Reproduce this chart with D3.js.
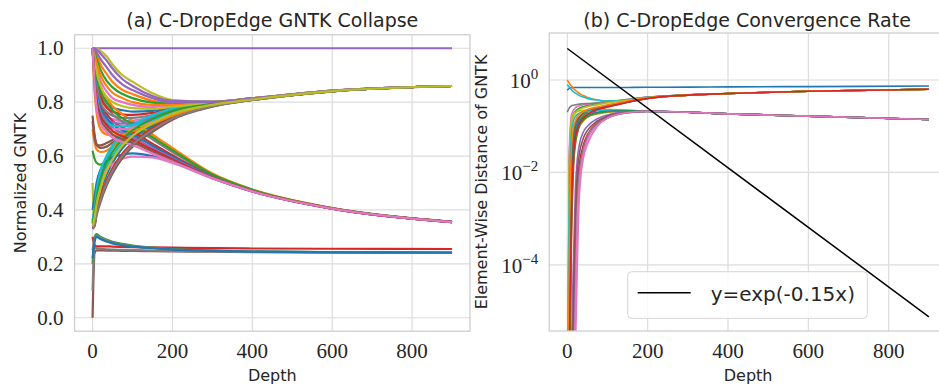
<!DOCTYPE html>
<html>
<head>
<meta charset="utf-8">
<script src="https://cdn.jsdelivr.net/npm/d3@7"></script>
<style>
  body { margin: 0; background: #fff; }
  .serif { font-family: 'Liberation Serif', 'Times New Roman', Tinos, 'DejaVu Serif', 'Noto Serif', serif; }
  .sans { font-family: 'DejaVu Sans', sans-serif; }
</style>
</head>
<body>
<svg id="chart" width="939" height="386"></svg>
<script>
// ---- data ----
// (a) normalized GNTK per depth, one row per curve
const depthsA = [0, 5, 10, 20, 35, 50, 75, 100, 150, 200, 300, 400, 600, 900];
const collapseCurves = [
  [1.0, 0.945, 0.90, 0.84, 0.80, 0.78, 0.77, 0.765, 0.768, 0.779, 0.796, 0.812, 0.842, 0.86],
  [1.0, 0.99, 0.975, 0.94, 0.905, 0.875, 0.845, 0.83, 0.805, 0.797, 0.80, 0.814, 0.842, 0.86],
  [0.62, 0.59, 0.575, 0.568, 0.58, 0.60, 0.635, 0.665, 0.71, 0.745, 0.786, 0.808, 0.84, 0.86],
  [0.30, 0.27, 0.265, 0.265, 0.265, 0.264, 0.263, 0.262, 0.261, 0.26, 0.258, 0.257, 0.256, 0.255],
  [1.0, 1.0, 1.0, 1.0, 1.0, 1.0, 1.0, 1.0, 1.0, 1.0, 1.0, 1.0, 1.0, 1.0],
  [0.75, 0.68, 0.645, 0.63, 0.635, 0.65, 0.675, 0.695, 0.73, 0.757, 0.789, 0.809, 0.841, 0.86],
  [1.0, 0.915, 0.855, 0.785, 0.75, 0.737, 0.73, 0.732, 0.745, 0.766, 0.793, 0.811, 0.841, 0.86],
  [1.0, 0.94, 0.885, 0.825, 0.785, 0.755, 0.728, 0.71, 0.662, 0.615, 0.529, 0.474, 0.406, 0.356],
  [1.0, 1.0, 1.0, 0.99, 0.97, 0.94, 0.90, 0.876, 0.833, 0.808, 0.802, 0.815, 0.843, 0.86],
  [0.36, 0.40, 0.46, 0.53, 0.59, 0.63, 0.675, 0.705, 0.745, 0.772, 0.795, 0.812, 0.842, 0.86],
  [0.34, 0.36, 0.41, 0.47, 0.53, 0.575, 0.63, 0.665, 0.715, 0.752, 0.789, 0.81, 0.841, 0.86],
  [0.70, 0.65, 0.625, 0.615, 0.62, 0.635, 0.66, 0.685, 0.722, 0.752, 0.788, 0.809, 0.841, 0.86],
  [0.20, 0.30, 0.31, 0.30, 0.29, 0.282, 0.274, 0.268, 0.26, 0.255, 0.249, 0.246, 0.243, 0.241],
  [1.0, 0.935, 0.885, 0.82, 0.78, 0.765, 0.755, 0.753, 0.76, 0.775, 0.795, 0.812, 0.842, 0.86],
  [1.0, 1.0, 0.995, 0.98, 0.955, 0.925, 0.885, 0.86, 0.823, 0.805, 0.802, 0.815, 0.843, 0.86],
  [0.0, 0.24, 0.25, 0.25, 0.249, 0.249, 0.248, 0.248, 0.247, 0.246, 0.245, 0.243, 0.242, 0.241],
  [1.0, 0.965, 0.93, 0.88, 0.84, 0.815, 0.80, 0.79, 0.782, 0.787, 0.798, 0.813, 0.842, 0.86],
  [0.10, 0.26, 0.258, 0.256, 0.254, 0.253, 0.252, 0.251, 0.249, 0.248, 0.246, 0.244, 0.242, 0.241],
  [0.50, 0.34, 0.40, 0.48, 0.545, 0.59, 0.64, 0.677, 0.722, 0.757, 0.79, 0.81, 0.841, 0.86],
  [0.35, 0.38, 0.43, 0.50, 0.56, 0.60, 0.65, 0.685, 0.73, 0.762, 0.792, 0.811, 0.841, 0.86],
  [0.40, 0.45, 0.50, 0.55, 0.58, 0.595, 0.605, 0.61, 0.60, 0.578, 0.518, 0.469, 0.405, 0.355],
  [1.0, 0.96, 0.92, 0.86, 0.815, 0.785, 0.755, 0.73, 0.68, 0.63, 0.535, 0.476, 0.407, 0.356],
  [1.0, 0.985, 0.96, 0.92, 0.88, 0.855, 0.83, 0.815, 0.798, 0.794, 0.80, 0.814, 0.842, 0.86],
  [1.0, 0.92, 0.855, 0.795, 0.757, 0.73, 0.706, 0.69, 0.646, 0.603, 0.525, 0.472, 0.406, 0.356],
  [1.0, 0.905, 0.84, 0.77, 0.737, 0.725, 0.72, 0.723, 0.74, 0.762, 0.792, 0.81, 0.841, 0.86],
  [0.73, 0.67, 0.64, 0.64, 0.648, 0.66, 0.68, 0.70, 0.733, 0.758, 0.789, 0.809, 0.841, 0.86],
  [0.35, 0.40, 0.45, 0.51, 0.55, 0.57, 0.59, 0.598, 0.595, 0.574, 0.517, 0.468, 0.404, 0.355],
  [1.0, 0.925, 0.87, 0.80, 0.765, 0.75, 0.742, 0.742, 0.752, 0.77, 0.794, 0.811, 0.841, 0.86],
  [1.0, 0.86, 0.78, 0.72, 0.695, 0.688, 0.69, 0.70, 0.725, 0.753, 0.789, 0.809, 0.841, 0.86],
  [0.36, 0.41, 0.47, 0.545, 0.60, 0.64, 0.683, 0.713, 0.752, 0.776, 0.796, 0.812, 0.842, 0.86],
  [1.0, 0.91, 0.84, 0.78, 0.743, 0.717, 0.695, 0.68, 0.638, 0.597, 0.523, 0.471, 0.405, 0.355],
  [1.0, 0.975, 0.945, 0.90, 0.86, 0.835, 0.815, 0.80, 0.79, 0.79, 0.799, 0.813, 0.842, 0.86],
  [1.0, 0.95, 0.90, 0.84, 0.80, 0.77, 0.74, 0.72, 0.67, 0.622, 0.532, 0.475, 0.407, 0.356],
  [0.33, 0.35, 0.39, 0.45, 0.51, 0.555, 0.61, 0.648, 0.703, 0.743, 0.786, 0.809, 0.84, 0.86],
  [1.0, 0.90, 0.825, 0.765, 0.73, 0.705, 0.684, 0.67, 0.63, 0.592, 0.521, 0.47, 0.405, 0.355],
  [0.33, 0.34, 0.38, 0.43, 0.49, 0.535, 0.593, 0.635, 0.69, 0.735, 0.783, 0.808, 0.84, 0.86],
  [1.0, 0.88, 0.805, 0.74, 0.712, 0.70, 0.70, 0.707, 0.73, 0.756, 0.79, 0.81, 0.841, 0.86],
  [0.25, 0.29, 0.305, 0.297, 0.287, 0.279, 0.271, 0.266, 0.259, 0.254, 0.249, 0.245, 0.243, 0.241],
  [1.0, 0.955, 0.915, 0.86, 0.82, 0.80, 0.785, 0.778, 0.775, 0.783, 0.797, 0.813, 0.842, 0.86],
  [1.0, 0.895, 0.825, 0.755, 0.725, 0.713, 0.71, 0.715, 0.735, 0.759, 0.791, 0.81, 0.841, 0.86],
  [0.22, 0.28, 0.30, 0.292, 0.283, 0.276, 0.269, 0.264, 0.258, 0.253, 0.248, 0.245, 0.243, 0.242],
  [1.0, 0.84, 0.76, 0.70, 0.68, 0.676, 0.68, 0.692, 0.72, 0.75, 0.788, 0.809, 0.841, 0.86],
  [0.35, 0.39, 0.445, 0.515, 0.575, 0.615, 0.662, 0.695, 0.738, 0.767, 0.794, 0.811, 0.841, 0.86],
  [1.0, 0.89, 0.81, 0.75, 0.717, 0.693, 0.673, 0.66, 0.623, 0.587, 0.52, 0.47, 0.405, 0.355],
  [1.0, 0.995, 0.985, 0.96, 0.93, 0.90, 0.865, 0.845, 0.815, 0.80, 0.801, 0.814, 0.843, 0.86],
  [1.0, 0.88, 0.795, 0.735, 0.703, 0.68, 0.662, 0.65, 0.616, 0.583, 0.519, 0.469, 0.405, 0.355],
  [1.0, 0.87, 0.78, 0.72, 0.69, 0.668, 0.652, 0.64, 0.609, 0.579, 0.518, 0.469, 0.405, 0.355],
  [0.33, 0.345, 0.385, 0.44, 0.50, 0.545, 0.602, 0.642, 0.697, 0.739, 0.785, 0.808, 0.84, 0.86],
  [0.34, 0.37, 0.42, 0.485, 0.545, 0.588, 0.64, 0.675, 0.722, 0.757, 0.79, 0.81, 0.841, 0.86]
];

// (b) element-wise distance per depth (log scale)
const depthsB = [0, 5, 10, 15, 20, 25, 30, 40, 50, 75, 100, 150, 200, 300, 400, 600, 900];
const distanceCurves = [
  [0.6, 0.66, 0.68, 0.685, 0.69, 0.69, 0.69, 0.69, 0.69, 0.69, 0.69, 0.69, 0.695, 0.70, 0.71, 0.72, 0.74],
  [1.0, 0.85, 0.74, 0.66, 0.60, 0.55, 0.51, 0.46, 0.42, 0.37, 0.35, 0.36, 0.42, 0.475, 0.51, 0.57, 0.63],
  [1e-8, 0.02, 0.12, 0.18, 0.21, 0.23, 0.245, 0.265, 0.28, 0.305, 0.33, 0.37, 0.42, 0.475, 0.51, 0.57, 0.63],
  [1e-9, 1e-7, 2e-4, 0.01, 0.04, 0.07, 0.10, 0.14, 0.17, 0.22, 0.26, 0.33, 0.40, 0.47, 0.51, 0.57, 0.63],
  [1e-9, 1e-6, 0.005, 0.04, 0.08, 0.11, 0.13, 0.16, 0.18, 0.20, 0.21, 0.215, 0.212, 0.20, 0.185, 0.165, 0.14],
  [1e-10, 1e-9, 1e-8, 1e-7, 1e-5, 1e-3, 0.008, 0.03, 0.055, 0.11, 0.15, 0.195, 0.208, 0.20, 0.185, 0.165, 0.14],
  [1e-8, 0.03, 0.17, 0.22, 0.25, 0.265, 0.275, 0.29, 0.30, 0.315, 0.335, 0.375, 0.42, 0.475, 0.51, 0.57, 0.63],
  [0.2, 0.25, 0.275, 0.285, 0.29, 0.295, 0.30, 0.305, 0.31, 0.32, 0.34, 0.38, 0.425, 0.475, 0.51, 0.57, 0.63],
  [1e-8, 0.01, 0.13, 0.18, 0.20, 0.21, 0.215, 0.22, 0.225, 0.228, 0.228, 0.222, 0.212, 0.20, 0.185, 0.165, 0.14],
  [0.8, 0.70, 0.62, 0.56, 0.52, 0.49, 0.46, 0.43, 0.40, 0.365, 0.35, 0.37, 0.42, 0.475, 0.51, 0.57, 0.63],
  [1e-9, 1e-5, 0.01, 0.05, 0.09, 0.12, 0.15, 0.19, 0.21, 0.25, 0.28, 0.34, 0.41, 0.47, 0.51, 0.57, 0.63],
  [1e-9, 1e-7, 1e-3, 0.02, 0.05, 0.08, 0.10, 0.13, 0.155, 0.185, 0.20, 0.212, 0.21, 0.20, 0.185, 0.165, 0.14],
  [1e-9, 1e-6, 0.003, 0.03, 0.07, 0.10, 0.13, 0.17, 0.20, 0.24, 0.27, 0.335, 0.405, 0.47, 0.51, 0.57, 0.63],
  [1e-10, 1e-9, 1e-7, 1e-5, 1e-3, 0.006, 0.015, 0.04, 0.065, 0.12, 0.16, 0.20, 0.21, 0.20, 0.185, 0.165, 0.14],
  [1e-10, 1e-9, 1e-8, 1e-6, 1e-4, 0.003, 0.01, 0.033, 0.06, 0.115, 0.155, 0.198, 0.209, 0.20, 0.185, 0.165, 0.14],
  [1e-9, 1e-4, 0.02, 0.07, 0.11, 0.14, 0.16, 0.19, 0.21, 0.245, 0.27, 0.33, 0.40, 0.47, 0.51, 0.57, 0.63],
  [1e-10, 1e-10, 1e-9, 1e-8, 1e-6, 1e-4, 3e-3, 0.02, 0.04, 0.10, 0.15, 0.20, 0.212, 0.20, 0.185, 0.165, 0.14],
  [1e-10, 1e-9, 1e-8, 1e-6, 1e-4, 2e-3, 0.008, 0.03, 0.055, 0.11, 0.15, 0.196, 0.208, 0.20, 0.185, 0.165, 0.14],
  [1e-8, 0.005, 0.10, 0.16, 0.19, 0.21, 0.23, 0.25, 0.265, 0.29, 0.32, 0.365, 0.415, 0.47, 0.51, 0.57, 0.63],
  [1e-8, 0.002, 0.06, 0.13, 0.16, 0.18, 0.19, 0.205, 0.21, 0.22, 0.225, 0.222, 0.212, 0.20, 0.185, 0.165, 0.14],
  [1e-9, 1e-6, 0.002, 0.03, 0.065, 0.095, 0.12, 0.15, 0.17, 0.195, 0.21, 0.216, 0.212, 0.20, 0.185, 0.165, 0.14],
  [1e-9, 1e-4, 0.03, 0.09, 0.13, 0.16, 0.18, 0.21, 0.23, 0.26, 0.29, 0.35, 0.41, 0.47, 0.51, 0.57, 0.63],
  [1e-9, 1e-7, 5e-4, 0.015, 0.045, 0.075, 0.10, 0.135, 0.16, 0.19, 0.205, 0.214, 0.21, 0.20, 0.185, 0.165, 0.14],
  [1e-9, 1e-6, 0.001, 0.02, 0.055, 0.085, 0.11, 0.15, 0.18, 0.23, 0.26, 0.33, 0.40, 0.47, 0.51, 0.57, 0.63],
  [1e-10, 1e-8, 1e-6, 1e-4, 0.004, 0.02, 0.04, 0.075, 0.10, 0.145, 0.175, 0.205, 0.21, 0.20, 0.185, 0.165, 0.14],
  [1e-10, 1e-9, 1e-7, 1e-5, 1e-3, 0.01, 0.025, 0.055, 0.08, 0.13, 0.165, 0.20, 0.21, 0.20, 0.185, 0.165, 0.14],
  [1e-10, 1e-10, 1e-8, 1e-7, 1e-5, 1e-3, 0.006, 0.025, 0.05, 0.105, 0.15, 0.198, 0.21, 0.20, 0.185, 0.165, 0.14]
];

// reference rate line (straight on the log axis)
const rateDepths = [0, 900];
const rateValues = [4.8, 7.5e-6];
const rateLabel = "y=exp(-0.15x)";

const xTicks = [0, 200, 400, 600, 800];
const yTicksA = [0.0, 0.2, 0.4, 0.6, 0.8, 1.0];
const yTicksB = [1, 1e-2, 1e-4];
const yTickExp = ["0", "\u22122", "\u22124"];

// ---- drawing ----
const svg = d3.select("#chart");
const palette = d3.schemeCategory10;
const gridColor = "#dcdcdc";
const spineColor = "#cccccc";
const textColor = "#262626";

function panel(id, box, x) {
  const g = svg.append("g");
  g.append("clipPath").attr("id", id)
    .append("rect").attr("x", box.l).attr("y", box.t)
    .attr("width", box.r - box.l).attr("height", box.b - box.t);

  g.append("g").selectAll("line").data(xTicks).join("line")
    .attr("x1", d => x(d)).attr("x2", d => x(d))
    .attr("y1", box.t).attr("y2", box.b)
    .attr("stroke", gridColor).attr("stroke-width", 1.2);

  g.append("g").selectAll("text").data(xTicks).join("text")
    .attr("class", "serif")
    .attr("x", d => x(d)).attr("y", box.b + 27)
    .attr("text-anchor", "middle")
    .attr("font-size", 21)
    .attr("fill", textColor)
    .text(d => d);
  return g;
}

function label(g, text, x, y, size, rotate) {
  return g.append("text")
    .attr("class", "sans")
    .attr("transform", `translate(${x},${y})` + (rotate ? " rotate(-90)" : ""))
    .attr("text-anchor", "middle")
    .attr("font-size", size)
    .attr("fill", textColor)
    .text(text);
}

// ---------- (a) ----------
const boxA = { l: 74.6, r: 470, t: 34.8, b: 331.2 };
const xA = d3.scaleLinear([-45, 945], [boxA.l, boxA.r]);
const yA = d3.scaleLinear([-0.05, 1.05], [boxA.b, boxA.t]);
const gA = panel("clipA", boxA, xA);

gA.append("g").selectAll("line").data(yTicksA).join("line")
  .attr("x1", boxA.l).attr("x2", boxA.r)
  .attr("y1", d => yA(d)).attr("y2", d => yA(d))
  .attr("stroke", gridColor).attr("stroke-width", 1.2);

gA.append("g").selectAll("text").data(yTicksA).join("text")
  .attr("class", "serif")
  .attr("x", boxA.l - 11).attr("y", d => yA(d) + 7)
  .attr("text-anchor", "end")
  .attr("font-size", 21)
  .attr("fill", textColor)
  .text(d => d.toFixed(1));

const lineA = d3.line()
  .x((d, i) => xA(depthsA[i]))
  .y(d => yA(d))
  .curve(d3.curveMonotoneX);

gA.append("g").attr("clip-path", "url(#clipA)")
  .selectAll("path").data(collapseCurves).join("path")
  .attr("d", lineA)
  .attr("fill", "none")
  .attr("stroke", (d, i) => palette[i % 10])
  .attr("stroke-width", 2.2)
  .attr("stroke-linejoin", "round");

gA.append("rect")
  .attr("x", boxA.l).attr("y", boxA.t)
  .attr("width", boxA.r - boxA.l).attr("height", boxA.b - boxA.t)
  .attr("fill", "none").attr("stroke", spineColor).attr("stroke-width", 1.25);

label(gA, "(a) C-DropEdge GNTK Collapse", (boxA.l + boxA.r) / 2, 27, 19);
label(gA, "Depth", (boxA.l + boxA.r) / 2, 381, 16);
label(gA, "Normalized GNTK", 26, (boxA.t + boxA.b) / 2, 16, true);

// ---------- (b) ----------
const boxB = { l: 549.2, r: 947, t: 33, b: 331 };
const xB = d3.scaleLinear([-45, 945], [boxB.l, boxB.r]);
const yB = d3.scaleLog([3.7e-6, 10.4], [boxB.b, boxB.t]);
const gB = panel("clipB", boxB, xB);

gB.append("g").selectAll("line").data(yTicksB).join("line")
  .attr("x1", boxB.l).attr("x2", boxB.r)
  .attr("y1", d => yB(d)).attr("y2", d => yB(d))
  .attr("stroke", gridColor).attr("stroke-width", 1.2);

const tickB = gB.append("g").selectAll("text").data(yTicksB).join("text")
  .attr("class", "serif")
  .attr("x", boxB.l - 11).attr("y", d => yB(d) + 8)
  .attr("text-anchor", "end")
  .attr("font-size", 21)
  .attr("fill", textColor);
tickB.append("tspan").text("10");
tickB.append("tspan")
  .attr("dy", -9)
  .attr("font-size", 15)
  .text((d, i) => yTickExp[i]);

const lineB = d3.line()
  .x((d, i) => xB(depthsB[i]))
  .y(d => yB(d))
  .curve(d3.curveMonotoneX);

const plotB = gB.append("g").attr("clip-path", "url(#clipB)");
plotB.selectAll("path.dist").data(distanceCurves).join("path")
  .attr("class", "dist")
  .attr("d", lineB)
  .attr("fill", "none")
  .attr("stroke", (d, i) => palette[i % 10])
  .attr("stroke-width", 1.6);

plotB.append("path")
  .datum(rateValues)
  .attr("d", d3.line().x((d, i) => xB(rateDepths[i])).y(d => yB(d)))
  .attr("fill", "none")
  .attr("stroke", "#000")
  .attr("stroke-width", 1.5);

gB.append("rect")
  .attr("x", boxB.l).attr("y", boxB.t)
  .attr("width", boxB.r - boxB.l).attr("height", boxB.b - boxB.t)
  .attr("fill", "none").attr("stroke", spineColor).attr("stroke-width", 1.25);

// legend
const legend = gB.append("g").attr("transform", "translate(627.7,271.7)");
legend.append("rect")
  .attr("width", 239.6).attr("height", 46.6).attr("rx", 4)
  .attr("fill", "#fff").attr("fill-opacity", 0.8)
  .attr("stroke", "#d6d6d6").attr("stroke-width", 1);
legend.append("line")
  .attr("x1", 10).attr("x2", 63).attr("y1", 21).attr("y2", 21)
  .attr("stroke", "#000").attr("stroke-width", 1.5);
legend.append("text")
  .attr("class", "sans")
  .attr("x", 83).attr("y", 29)
  .attr("font-size", 20)
  .attr("fill", textColor)
  .text(rateLabel);

label(gB, "(b) C-DropEdge Convergence Rate", (boxB.l + boxB.r) / 2 - 1, 27, 19);
label(gB, "Depth", (boxB.l + boxB.r) / 2, 381, 16);
label(gB, "Element-Wise Distance of GNTK", 487, (boxB.t + boxB.b) / 2, 16, true);
</script>
</body>
</html>
